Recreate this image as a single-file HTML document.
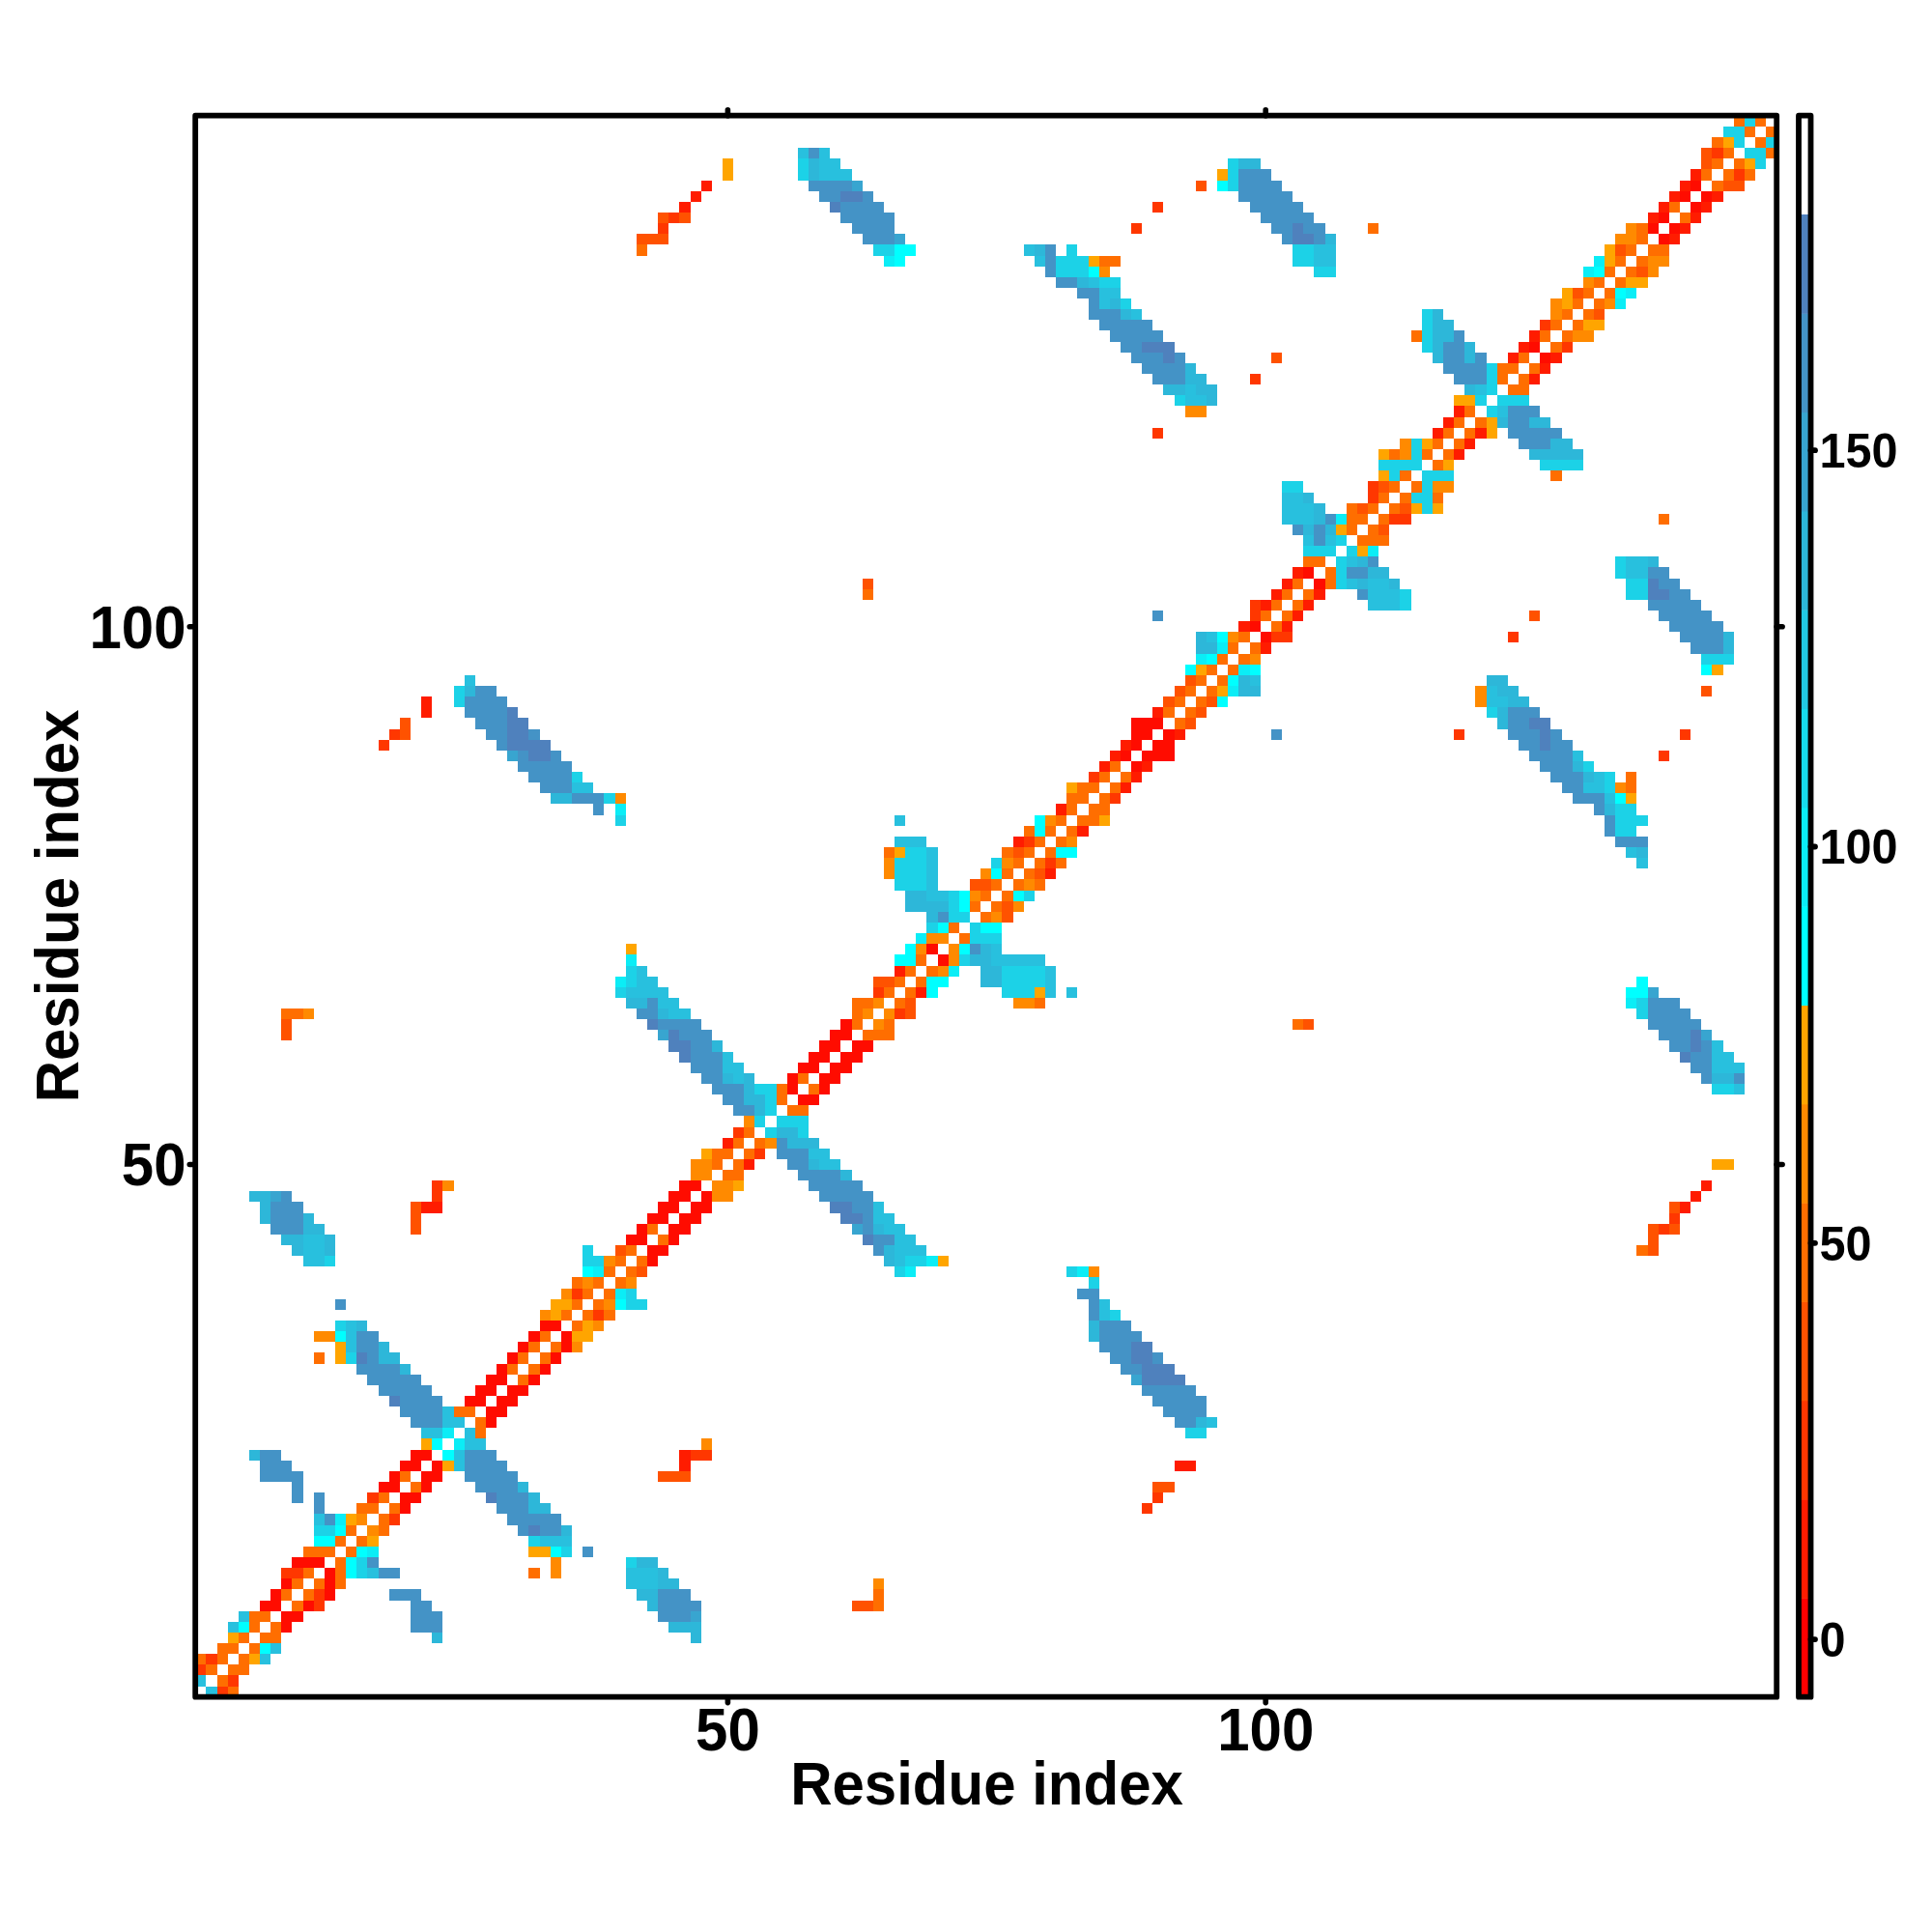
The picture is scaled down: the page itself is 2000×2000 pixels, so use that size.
<!DOCTYPE html>
<html><head><meta charset="utf-8"><title>Residue index contact map</title>
<style>html,body{margin:0;padding:0;background:#fff}svg{display:block}text{font-family:"Liberation Sans",Arial,Helvetica,sans-serif;font-weight:bold;fill:#000}</style>
</head><body>
<svg width="2000" height="2000" viewBox="0 0 2000 2000">
<rect width="2000" height="2000" fill="#fff"/>
<g shape-rendering="crispEdges">
<path fill="#ff0c00" d="M291.3 1678.7H302.4V1689.9H291.3zM291.3 1667.6H313.6V1678.7H291.3zM269.0 1656.5H291.3V1667.6H269.0zM313.6 1656.5H324.7V1667.6H313.6zM280.2 1645.3H291.3V1656.5H280.2zM335.8 1645.3H347.0V1656.5H335.8zM291.3 1634.2H302.4V1645.3H291.3zM335.8 1634.2H347.0V1645.3H335.8zM335.8 1623.1H347.0V1634.2H335.8zM302.4 1611.9H335.8V1623.1H302.4zM413.8 1556.3H424.9V1567.4H413.8zM413.8 1545.1H436.1V1556.3H413.8zM391.5 1534.0H413.8V1545.1H391.5zM436.1 1534.0H447.2V1545.1H436.1zM402.6 1522.8H413.8V1534.0H402.6zM436.1 1522.8H458.3V1534.0H436.1zM413.8 1511.7H436.1V1522.8H413.8zM447.2 1511.7H458.3V1522.8H447.2zM424.9 1500.6H447.2V1511.7H424.9zM502.9 1467.2H514.0V1478.3H502.9zM502.9 1456.0H525.1V1467.2H502.9zM480.6 1444.9H502.9V1456.0H480.6zM514.0 1444.9H536.3V1456.0H514.0zM491.7 1433.8H514.0V1444.9H491.7zM525.1 1433.8H547.4V1444.9H525.1zM502.9 1422.6H525.1V1433.8H502.9zM547.4 1422.6H558.6V1433.8H547.4zM514.0 1411.5H525.1V1422.6H514.0zM558.6 1411.5H569.7V1422.6H558.6zM525.1 1400.3H536.3V1411.5H525.1zM569.7 1400.3H580.8V1411.5H569.7zM536.3 1389.2H547.4V1400.3H536.3zM580.8 1389.2H592.0V1400.3H580.8zM547.4 1378.1H558.6V1389.2H547.4zM580.8 1378.1H592.0V1389.2H580.8zM558.6 1366.9H580.8V1378.1H558.6zM669.9 1300.1H681.0V1311.3H669.9zM669.9 1289.0H692.2V1300.1H669.9zM647.6 1277.9H669.9V1289.0H647.6zM692.2 1277.9H703.3V1289.0H692.2zM658.8 1266.7H669.9V1277.9H658.8zM692.2 1266.7H714.5V1277.9H692.2zM669.9 1255.6H692.2V1266.7H669.9zM703.3 1255.6H725.6V1266.7H703.3zM681.0 1244.4H703.3V1255.6H681.0zM714.5 1244.4H736.7V1255.6H714.5zM692.2 1233.3H714.5V1244.4H692.2zM725.6 1233.3H736.7V1244.4H725.6zM703.3 1222.2H725.6V1233.3H703.3zM825.8 1133.1H848.1V1144.2H825.8zM814.7 1121.9H825.8V1133.1H814.7zM848.1 1121.9H859.2V1133.1H848.1zM814.7 1110.8H825.8V1121.9H814.7zM848.1 1110.8H870.4V1121.9H848.1zM825.8 1099.7H848.1V1110.8H825.8zM859.2 1099.7H881.5V1110.8H859.2zM837.0 1088.5H859.2V1099.7H837.0zM870.4 1088.5H892.6V1099.7H870.4zM848.1 1077.4H870.4V1088.5H848.1zM881.5 1077.4H903.8V1088.5H881.5zM859.2 1066.3H881.5V1077.4H859.2zM870.4 1055.1H881.5V1066.3H870.4zM970.6 988.3H981.7V999.5H970.6zM959.4 977.2H970.6V988.3H959.4zM1171.0 787.9H1182.2V799.0H1171.0zM1159.9 776.7H1171.0V787.9H1159.9zM1182.2 776.7H1215.6V787.9H1182.2zM1171.0 765.6H1182.2V776.7H1171.0zM1193.3 765.6H1215.6V776.7H1193.3zM1171.0 754.5H1193.3V765.6H1171.0zM1204.4 754.5H1215.6V765.6H1204.4zM1171.0 743.3H1204.4V754.5H1171.0zM1304.7 654.2H1315.8V665.4H1304.7zM1293.5 643.1H1304.7V654.2H1293.5zM1360.3 598.6H1371.5V609.7H1360.3zM1349.2 587.4H1360.3V598.6H1349.2zM1594.2 364.7H1605.3V375.8H1594.2zM1583.1 353.6H1594.2V364.7H1583.1zM1716.7 242.2H1727.8V253.3H1716.7zM1705.6 231.1H1716.7V242.2H1705.6zM1727.8 231.1H1739.0V242.2H1727.8zM1716.7 219.9H1727.8V231.1H1716.7zM1750.1 208.8H1761.2V219.9H1750.1zM1739.0 197.7H1750.1V208.8H1739.0zM1761.2 197.7H1772.4V208.8H1761.2zM1750.1 186.5H1761.2V197.7H1750.1z"/>
<path fill="#ff1c00" d="M703.3 1511.7H714.5V1522.8H703.3zM1215.6 1511.7H1237.8V1522.8H1215.6zM703.3 1500.6H714.5V1511.7H703.3zM436.1 1244.4H458.3V1255.6H436.1zM1739.0 1244.4H1750.1V1255.6H1739.0zM1750.1 1233.3H1761.2V1244.4H1750.1zM1761.2 1222.2H1772.4V1233.3H1761.2zM770.1 1199.9H781.3V1211.0H770.1zM747.9 1177.6H759.0V1188.8H747.9zM948.3 1021.7H959.4V1032.9H948.3zM926.0 999.5H937.2V1010.6H926.0zM1081.9 899.2H1093.1V910.4H1081.9zM1048.5 865.8H1059.7V877.0H1048.5zM1115.4 854.7H1126.5V865.8H1115.4zM1093.1 832.4H1104.2V843.5H1093.1zM1159.9 810.1H1171.0V821.3H1159.9zM1171.0 799.0H1182.2V810.1H1171.0zM1137.6 787.9H1148.8V799.0H1137.6zM1182.2 787.9H1193.3V799.0H1182.2zM1148.8 776.7H1159.9V787.9H1148.8zM1159.9 765.6H1171.0V776.7H1159.9zM1215.6 754.5H1226.7V765.6H1215.6zM436.1 732.2H447.2V743.3H436.1zM1193.3 732.2H1204.4V743.3H1193.3zM436.1 721.1H447.2V732.2H436.1zM1304.7 665.4H1315.8V676.5H1304.7zM1282.4 643.1H1293.5V654.2H1282.4zM1326.9 643.1H1338.1V654.2H1326.9zM1338.1 632.0H1349.2V643.1H1338.1zM1304.7 620.8H1315.8V632.0H1304.7zM1349.2 620.8H1360.3V632.0H1349.2zM1315.8 609.7H1326.9V620.8H1315.8zM1360.3 609.7H1371.5V620.8H1360.3zM1326.9 598.6H1338.1V609.7H1326.9zM1338.1 587.4H1349.2V598.6H1338.1zM1505.1 464.9H1516.2V476.1H1505.1zM1516.2 453.8H1527.4V464.9H1516.2zM1482.8 442.7H1494.0V453.8H1482.8zM1527.4 442.7H1538.5V453.8H1527.4zM1494.0 431.5H1505.1V442.7H1494.0zM1505.1 420.4H1516.2V431.5H1505.1zM1583.1 387.0H1594.2V398.1H1583.1zM1594.2 375.8H1605.3V387.0H1594.2zM1560.8 364.7H1571.9V375.8H1560.8zM1605.3 364.7H1616.5V375.8H1605.3zM1571.9 353.6H1583.1V364.7H1571.9zM1583.1 342.4H1594.2V353.6H1583.1zM1727.8 242.2H1739.0V253.3H1727.8zM1739.0 231.1H1750.1V242.2H1739.0zM1705.6 219.9H1716.7V231.1H1705.6zM1750.1 219.9H1761.2V231.1H1750.1zM703.3 208.8H714.5V219.9H703.3zM1716.7 208.8H1727.8V219.9H1716.7zM1761.2 208.8H1772.4V219.9H1761.2zM714.5 197.7H725.6V208.8H714.5zM1727.8 197.7H1739.0V208.8H1727.8zM1772.4 197.7H1783.5V208.8H1772.4zM725.6 186.5H736.7V197.7H725.6zM1739.0 186.5H1750.1V197.7H1739.0zM1750.1 175.4H1761.2V186.5H1750.1z"/>
<path fill="#ff3700" d="M224.5 1745.6H235.6V1756.7H224.5zM235.6 1734.4H246.7V1745.6H235.6zM202.2 1723.3H213.3V1734.4H202.2zM213.3 1712.2H224.5V1723.3H213.3zM324.7 1656.5H335.8V1667.6H324.7zM324.7 1645.3H335.8V1656.5H324.7zM291.3 1623.1H313.6V1634.2H291.3zM402.6 1567.4H413.8V1578.5H402.6zM1182.2 1556.3H1193.3V1567.4H1182.2zM380.4 1545.1H391.5V1556.3H380.4zM1193.3 1545.1H1204.4V1556.3H1193.3zM714.5 1500.6H736.7V1511.7H714.5zM614.2 1355.8H625.4V1366.9H614.2zM592.0 1333.5H603.1V1344.7H592.0zM1716.7 1266.7H1727.8V1277.9H1716.7zM1727.8 1255.6H1739.0V1266.7H1727.8zM447.2 1233.3H458.3V1244.4H447.2zM447.2 1222.2H458.3V1233.3H447.2zM781.3 1188.8H792.4V1199.9H781.3zM759.0 1166.5H770.1V1177.6H759.0zM926.0 1044.0H937.2V1055.1H926.0zM903.8 1021.7H914.9V1032.9H903.8zM1081.9 888.1H1093.1V899.2H1081.9zM1059.7 865.8H1070.8V877.0H1059.7zM1148.8 821.3H1159.9V832.4H1148.8zM1126.5 799.0H1137.6V810.1H1126.5zM1716.7 776.7H1727.8V787.9H1716.7zM391.5 765.6H402.6V776.7H391.5zM402.6 754.5H413.8V765.6H402.6zM1505.1 754.5H1516.2V765.6H1505.1zM1739.0 754.5H1750.1V765.6H1739.0zM1315.8 654.2H1338.1V665.4H1315.8zM1560.8 654.2H1571.9V665.4H1560.8zM1293.5 632.0H1304.7V643.1H1293.5zM1293.5 620.8H1304.7V632.0H1293.5zM1438.3 531.7H1460.6V542.9H1438.3zM1416.0 509.5H1427.2V520.6H1416.0zM1416.0 498.3H1427.2V509.5H1416.0zM1193.3 442.7H1204.4V453.8H1193.3zM1293.5 387.0H1304.7V398.1H1293.5zM1616.5 353.6H1627.6V364.7H1616.5zM1594.2 331.3H1605.3V342.4H1594.2zM681.0 231.1H692.2V242.2H681.0zM1171.0 231.1H1182.2V242.2H1171.0zM692.2 219.9H703.3V231.1H692.2zM1193.3 208.8H1204.4V219.9H1193.3zM1794.6 175.4H1805.8V186.5H1794.6zM1772.4 153.1H1783.5V164.3H1772.4z"/>
<path fill="#ff5200" d="M881.5 1656.5H903.8V1667.6H881.5zM1193.3 1534.0H1215.6V1545.1H1193.3zM681.0 1522.8H714.5V1534.0H681.0zM658.8 1311.3H669.9V1322.4H658.8zM636.5 1289.0H647.6V1300.1H636.5zM1705.6 1289.0H1716.7V1300.1H1705.6zM1705.6 1277.9H1716.7V1289.0H1705.6zM424.9 1266.7H436.1V1277.9H424.9zM1705.6 1266.7H1716.7V1277.9H1705.6zM1727.8 1266.7H1739.0V1277.9H1727.8zM424.9 1255.6H436.1V1266.7H424.9zM424.9 1244.4H436.1V1255.6H424.9zM1727.8 1244.4H1739.0V1255.6H1727.8zM291.3 1066.3H302.4V1077.4H291.3zM291.3 1055.1H302.4V1066.3H291.3zM1349.2 1055.1H1360.3V1066.3H1349.2zM937.2 1044.0H948.3V1055.1H937.2zM937.2 1032.9H948.3V1044.0H937.2zM903.8 1010.6H926.0V1021.7H903.8zM1037.4 943.8H1048.5V954.9H1037.4zM1037.4 932.6H1048.5V943.8H1037.4zM1004.0 910.4H1026.3V921.5H1004.0zM1070.8 899.2H1081.9V910.4H1070.8zM1048.5 877.0H1059.7V888.1H1048.5zM413.8 754.5H424.9V765.6H413.8zM413.8 743.3H424.9V754.5H413.8zM1226.7 743.3H1237.8V754.5H1226.7zM1237.8 732.2H1249.0V743.3H1237.8zM1204.4 721.1H1215.6V732.2H1204.4zM1249.0 721.1H1260.1V732.2H1249.0zM1215.6 709.9H1226.7V721.1H1215.6zM1761.2 709.9H1772.4V721.1H1761.2zM1226.7 698.8H1237.8V709.9H1226.7zM1583.1 632.0H1594.2V643.1H1583.1zM892.6 598.6H903.8V609.7H892.6zM1427.2 542.9H1438.3V554.0H1427.2zM1404.9 520.6H1416.0V531.7H1404.9zM1449.4 520.6H1460.6V531.7H1449.4zM1427.2 498.3H1438.3V509.5H1427.2zM1315.8 364.7H1326.9V375.8H1315.8zM1649.9 320.2H1661.0V331.3H1649.9zM1627.6 297.9H1638.7V309.0H1627.6zM1694.4 275.6H1705.6V286.7H1694.4zM1672.2 253.3H1683.3V264.5H1672.2zM658.8 242.2H692.2V253.3H658.8zM681.0 219.9H692.2V231.1H681.0zM703.3 219.9H714.5V231.1H703.3zM1237.8 186.5H1249.0V197.7H1237.8zM1783.5 186.5H1805.8V197.7H1783.5zM1761.2 164.3H1772.4V175.4H1761.2zM1761.2 153.1H1772.4V164.3H1761.2z"/>
<path fill="#ff6e00" d="M235.6 1745.6H246.7V1756.7H235.6zM224.5 1734.4H235.6V1745.6H224.5zM213.3 1723.3H224.5V1734.4H213.3zM235.6 1723.3H257.9V1734.4H235.6zM202.2 1712.2H213.3V1723.3H202.2zM224.5 1712.2H235.6V1723.3H224.5zM246.7 1712.2H257.9V1723.3H246.7zM224.5 1701.0H246.7V1712.2H224.5zM257.9 1701.0H269.0V1712.2H257.9zM246.7 1689.9H257.9V1701.0H246.7zM269.0 1689.9H291.3V1701.0H269.0zM257.9 1678.7H269.0V1689.9H257.9zM280.2 1678.7H291.3V1689.9H280.2zM257.9 1667.6H280.2V1678.7H257.9zM302.4 1656.5H313.6V1667.6H302.4zM903.8 1656.5H914.9V1667.6H903.8zM291.3 1645.3H302.4V1656.5H291.3zM313.6 1645.3H324.7V1656.5H313.6zM903.8 1645.3H914.9V1656.5H903.8zM302.4 1634.2H313.6V1645.3H302.4zM324.7 1634.2H335.8V1645.3H324.7zM347.0 1634.2H358.1V1645.3H347.0zM313.6 1623.1H324.7V1634.2H313.6zM347.0 1623.1H358.1V1634.2H347.0zM547.4 1623.1H558.6V1634.2H547.4zM347.0 1611.9H358.1V1623.1H347.0zM313.6 1600.8H347.0V1611.9H313.6zM358.1 1600.8H369.2V1611.9H358.1zM347.0 1589.7H358.1V1600.8H347.0zM369.2 1589.7H380.4V1600.8H369.2zM358.1 1578.5H369.2V1589.7H358.1zM391.5 1578.5H402.6V1589.7H391.5zM391.5 1567.4H402.6V1578.5H391.5zM369.2 1556.3H391.5V1567.4H369.2zM402.6 1556.3H413.8V1567.4H402.6zM391.5 1545.1H402.6V1556.3H391.5zM424.9 1534.0H436.1V1545.1H424.9zM413.8 1522.8H424.9V1534.0H413.8zM491.7 1478.3H502.9V1489.4H491.7zM491.7 1467.2H502.9V1478.3H491.7zM469.5 1456.0H491.7V1467.2H469.5zM536.3 1422.6H547.4V1433.8H536.3zM525.1 1411.5H536.3V1422.6H525.1zM547.4 1411.5H558.6V1422.6H547.4zM324.7 1400.3H335.8V1411.5H324.7zM536.3 1400.3H547.4V1411.5H536.3zM558.6 1400.3H569.7V1411.5H558.6zM547.4 1389.2H558.6V1400.3H547.4zM569.7 1389.2H580.8V1400.3H569.7zM558.6 1378.1H569.7V1389.2H558.6zM592.0 1366.9H603.1V1378.1H592.0zM580.8 1355.8H592.0V1366.9H580.8zM603.1 1355.8H614.2V1366.9H603.1zM625.4 1355.8H636.5V1366.9H625.4zM592.0 1344.7H603.1V1355.8H592.0zM614.2 1344.7H625.4V1355.8H614.2zM603.1 1333.5H614.2V1344.7H603.1zM625.4 1333.5H636.5V1344.7H625.4zM592.0 1322.4H603.1V1333.5H592.0zM614.2 1322.4H625.4V1333.5H614.2zM636.5 1322.4H647.6V1333.5H636.5zM625.4 1311.3H636.5V1322.4H625.4zM647.6 1311.3H658.8V1322.4H647.6zM636.5 1300.1H647.6V1311.3H636.5zM658.8 1300.1H669.9V1311.3H658.8zM647.6 1289.0H658.8V1300.1H647.6zM1694.4 1289.0H1705.6V1300.1H1694.4zM681.0 1277.9H692.2V1289.0H681.0zM669.9 1266.7H681.0V1277.9H669.9zM747.9 1211.0H770.1V1222.2H747.9zM736.7 1199.9H747.9V1211.0H736.7zM759.0 1199.9H770.1V1211.0H759.0zM736.7 1188.8H759.0V1199.9H736.7zM770.1 1188.8H781.3V1199.9H770.1zM759.0 1177.6H770.1V1188.8H759.0zM781.3 1177.6H792.4V1188.8H781.3zM770.1 1166.5H781.3V1177.6H770.1zM814.7 1144.2H837.0V1155.4H814.7zM803.5 1133.1H814.7V1144.2H803.5zM803.5 1121.9H814.7V1133.1H803.5zM837.0 1121.9H848.1V1133.1H837.0zM825.8 1110.8H837.0V1121.9H825.8zM892.6 1066.3H926.0V1077.4H892.6zM881.5 1055.1H892.6V1066.3H881.5zM914.9 1055.1H926.0V1066.3H914.9zM1338.1 1055.1H1349.2V1066.3H1338.1zM291.3 1044.0H313.6V1055.1H291.3zM881.5 1044.0H892.6V1055.1H881.5zM881.5 1032.9H903.8V1044.0H881.5zM926.0 1032.9H937.2V1044.0H926.0zM1070.8 1032.9H1081.9V1044.0H1070.8zM914.9 1021.7H926.0V1032.9H914.9zM937.2 1021.7H948.3V1032.9H937.2zM926.0 1010.6H937.2V1021.7H926.0zM948.3 1010.6H959.4V1021.7H948.3zM937.2 999.5H948.3V1010.6H937.2zM959.4 999.5H970.6V1010.6H959.4zM948.3 988.3H959.4V999.5H948.3zM992.9 966.0H1004.0V977.2H992.9zM981.7 954.9H992.9V966.0H981.7zM1015.1 943.8H1026.3V954.9H1015.1zM1004.0 932.6H1015.1V943.8H1004.0zM1026.3 932.6H1037.4V943.8H1026.3zM1015.1 921.5H1026.3V932.6H1015.1zM1037.4 921.5H1048.5V932.6H1037.4zM1026.3 910.4H1037.4V921.5H1026.3zM1048.5 910.4H1059.7V921.5H1048.5zM1070.8 910.4H1081.9V921.5H1070.8zM1037.4 899.2H1048.5V910.4H1037.4zM1059.7 899.2H1070.8V910.4H1059.7zM1048.5 888.1H1059.7V899.2H1048.5zM1070.8 888.1H1081.9V899.2H1070.8zM1093.1 888.1H1104.2V899.2H1093.1zM914.9 877.0H926.0V888.1H914.9zM1037.4 877.0H1048.5V888.1H1037.4zM1059.7 877.0H1070.8V888.1H1059.7zM1081.9 877.0H1093.1V888.1H1081.9zM1070.8 865.8H1081.9V877.0H1070.8zM1093.1 865.8H1104.2V877.0H1093.1zM1059.7 854.7H1070.8V865.8H1059.7zM1081.9 854.7H1093.1V865.8H1081.9zM1104.2 854.7H1115.4V865.8H1104.2zM1093.1 843.5H1104.2V854.7H1093.1zM1115.4 843.5H1137.6V854.7H1115.4zM1104.2 832.4H1115.4V843.5H1104.2zM1126.5 832.4H1148.8V843.5H1126.5zM1104.2 821.3H1126.5V832.4H1104.2zM1137.6 821.3H1148.8V832.4H1137.6zM1115.4 810.1H1137.6V821.3H1115.4zM1148.8 810.1H1159.9V821.3H1148.8zM1683.3 810.1H1694.4V821.3H1683.3zM1137.6 799.0H1148.8V810.1H1137.6zM1159.9 799.0H1171.0V810.1H1159.9zM1683.3 799.0H1694.4V810.1H1683.3zM1148.8 787.9H1159.9V799.0H1148.8zM1215.6 743.3H1226.7V754.5H1215.6zM1204.4 732.2H1215.6V743.3H1204.4zM1226.7 732.2H1237.8V743.3H1226.7zM1215.6 721.1H1226.7V732.2H1215.6zM1237.8 721.1H1249.0V732.2H1237.8zM1226.7 709.9H1237.8V721.1H1226.7zM1249.0 709.9H1260.1V721.1H1249.0zM1237.8 698.8H1249.0V709.9H1237.8zM1260.1 698.8H1271.3V709.9H1260.1zM1249.0 687.6H1260.1V698.8H1249.0zM1271.3 687.6H1282.4V698.8H1271.3zM1260.1 676.5H1271.3V687.6H1260.1zM1282.4 676.5H1293.5V687.6H1282.4zM1271.3 665.4H1282.4V676.5H1271.3zM1293.5 665.4H1304.7V676.5H1293.5zM1282.4 654.2H1293.5V665.4H1282.4zM1315.8 643.1H1326.9V654.2H1315.8zM1304.7 632.0H1315.8V643.1H1304.7zM1326.9 632.0H1338.1V643.1H1326.9zM1315.8 620.8H1326.9V632.0H1315.8zM1338.1 620.8H1349.2V632.0H1338.1zM892.6 609.7H903.8V620.8H892.6zM1326.9 609.7H1338.1V620.8H1326.9zM1349.2 609.7H1360.3V620.8H1349.2zM1338.1 598.6H1349.2V609.7H1338.1zM1371.5 598.6H1382.6V609.7H1371.5zM1371.5 587.4H1382.6V598.6H1371.5zM1349.2 576.3H1371.5V587.4H1349.2zM1404.9 554.0H1438.3V565.1H1404.9zM1393.8 542.9H1404.9V554.0H1393.8zM1416.0 542.9H1427.2V554.0H1416.0zM1393.8 531.7H1416.0V542.9H1393.8zM1427.2 531.7H1438.3V542.9H1427.2zM1716.7 531.7H1727.8V542.9H1716.7zM1393.8 520.6H1404.9V531.7H1393.8zM1416.0 520.6H1427.2V531.7H1416.0zM1438.3 520.6H1449.4V531.7H1438.3zM1427.2 509.5H1438.3V520.6H1427.2zM1449.4 509.5H1460.6V520.6H1449.4zM1482.8 509.5H1494.0V520.6H1482.8zM1438.3 498.3H1449.4V509.5H1438.3zM1460.6 498.3H1471.7V509.5H1460.6zM1449.4 487.2H1460.6V498.3H1449.4zM1605.3 487.2H1616.5V498.3H1605.3zM1482.8 476.1H1494.0V487.2H1482.8zM1438.3 464.9H1449.4V476.1H1438.3zM1471.7 464.9H1482.8V476.1H1471.7zM1494.0 464.9H1505.1V476.1H1494.0zM1482.8 453.8H1494.0V464.9H1482.8zM1505.1 453.8H1516.2V464.9H1505.1zM1494.0 442.7H1505.1V453.8H1494.0zM1516.2 442.7H1527.4V453.8H1516.2zM1505.1 431.5H1516.2V442.7H1505.1zM1527.4 431.5H1538.5V442.7H1527.4zM1516.2 420.4H1527.4V431.5H1516.2zM1560.8 398.1H1583.1V409.2H1560.8zM1549.7 387.0H1560.8V398.1H1549.7zM1571.9 387.0H1583.1V398.1H1571.9zM1549.7 375.8H1571.9V387.0H1549.7zM1583.1 375.8H1594.2V387.0H1583.1zM1571.9 364.7H1583.1V375.8H1571.9zM1605.3 353.6H1616.5V364.7H1605.3zM1460.6 342.4H1471.7V353.6H1460.6zM1594.2 342.4H1605.3V353.6H1594.2zM1616.5 342.4H1627.6V353.6H1616.5zM1605.3 331.3H1616.5V342.4H1605.3zM1627.6 331.3H1638.7V342.4H1627.6zM1616.5 320.2H1627.6V331.3H1616.5zM1638.7 320.2H1649.9V331.3H1638.7zM1627.6 309.0H1638.7V320.2H1627.6zM1649.9 309.0H1661.0V320.2H1649.9zM1638.7 297.9H1649.9V309.0H1638.7zM1661.0 297.9H1672.2V309.0H1661.0zM1649.9 286.7H1661.0V297.9H1649.9zM1672.2 286.7H1683.3V297.9H1672.2zM1661.0 275.6H1672.2V286.7H1661.0zM1683.3 275.6H1694.4V286.7H1683.3zM1137.6 264.5H1159.9V275.6H1137.6zM1672.2 264.5H1683.3V275.6H1672.2zM1694.4 264.5H1705.6V275.6H1694.4zM658.8 253.3H669.9V264.5H658.8zM1683.3 253.3H1694.4V264.5H1683.3zM1705.6 253.3H1727.8V264.5H1705.6zM1694.4 242.2H1705.6V253.3H1694.4zM1416.0 231.1H1427.2V242.2H1416.0zM1694.4 231.1H1705.6V242.2H1694.4zM1739.0 219.9H1750.1V231.1H1739.0zM1727.8 208.8H1739.0V219.9H1727.8zM1772.4 186.5H1783.5V197.7H1772.4zM1761.2 175.4H1772.4V186.5H1761.2zM1783.5 175.4H1794.6V186.5H1783.5zM1805.8 175.4H1816.9V186.5H1805.8zM1772.4 164.3H1783.5V175.4H1772.4zM1794.6 164.3H1805.8V175.4H1794.6zM1783.5 153.1H1794.6V164.3H1783.5zM1828.1 153.1H1839.2V164.3H1828.1zM1772.4 142.0H1783.5V153.1H1772.4zM1816.9 142.0H1828.1V153.1H1816.9zM1805.8 130.8H1816.9V142.0H1805.8zM1828.1 130.8H1839.2V142.0H1828.1zM1794.6 119.7H1805.8V130.8H1794.6zM1816.9 119.7H1828.1V130.8H1816.9z"/>
<path fill="#ff8a00" d="M903.8 1634.2H914.9V1645.3H903.8zM569.7 1623.1H580.8V1634.2H569.7zM569.7 1611.9H580.8V1623.1H569.7zM380.4 1578.5H391.5V1589.7H380.4zM369.2 1567.4H380.4V1578.5H369.2zM725.6 1489.4H736.7V1500.6H725.6zM592.0 1389.2H603.1V1400.3H592.0zM324.7 1378.1H347.0V1389.2H324.7zM614.2 1366.9H625.4V1378.1H614.2zM558.6 1355.8H569.7V1366.9H558.6zM625.4 1344.7H636.5V1355.8H625.4zM580.8 1333.5H592.0V1344.7H580.8zM603.1 1322.4H614.2V1333.5H603.1zM647.6 1322.4H658.8V1333.5H647.6zM1126.5 1311.3H1137.6V1322.4H1126.5zM625.4 1300.1H636.5V1311.3H625.4zM736.7 1233.3H759.0V1244.4H736.7zM458.3 1222.2H469.5V1233.3H458.3zM736.7 1222.2H759.0V1233.3H736.7zM714.5 1211.0H736.7V1222.2H714.5zM714.5 1199.9H736.7V1211.0H714.5zM792.4 1177.6H803.5V1188.8H792.4zM770.1 1155.4H781.3V1166.5H770.1zM903.8 1055.1H914.9V1066.3H903.8zM313.6 1044.0H324.7V1055.1H313.6zM892.6 1044.0H903.8V1055.1H892.6zM914.9 1044.0H926.0V1055.1H914.9zM903.8 1032.9H914.9V1044.0H903.8zM1048.5 1032.9H1070.8V1044.0H1048.5zM970.6 999.5H981.7V1010.6H970.6zM981.7 988.3H992.9V999.5H981.7zM948.3 977.2H959.4V988.3H948.3zM981.7 977.2H992.9V988.3H981.7zM959.4 966.0H981.7V977.2H959.4zM1026.3 943.8H1037.4V954.9H1026.3zM1048.5 932.6H1059.7V943.8H1048.5zM1004.0 921.5H1015.1V932.6H1004.0zM1059.7 910.4H1070.8V921.5H1059.7zM914.9 899.2H926.0V910.4H914.9zM1015.1 899.2H1026.3V910.4H1015.1zM914.9 888.1H926.0V899.2H914.9zM1037.4 888.1H1048.5V899.2H1037.4zM1104.2 865.8H1115.4V877.0H1104.2zM1081.9 843.5H1093.1V854.7H1081.9zM636.5 821.3H647.6V832.4H636.5zM1672.2 810.1H1683.3V821.3H1672.2zM1527.4 721.1H1538.5V732.2H1527.4zM1527.4 709.9H1538.5V721.1H1527.4zM1293.5 676.5H1304.7V687.6H1293.5zM1271.3 654.2H1282.4V665.4H1271.3zM1482.8 498.3H1505.1V509.5H1482.8zM1449.4 464.9H1460.6V476.1H1449.4zM1449.4 453.8H1460.6V464.9H1449.4zM1226.7 420.4H1249.0V431.5H1226.7zM1627.6 342.4H1649.9V353.6H1627.6zM1605.3 320.2H1616.5V331.3H1605.3zM1605.3 309.0H1616.5V320.2H1605.3zM1661.0 309.0H1672.2V320.2H1661.0zM1638.7 286.7H1649.9V297.9H1638.7zM1137.6 275.6H1148.8V286.7H1137.6zM1705.6 275.6H1716.7V286.7H1705.6zM1705.6 264.5H1727.8V275.6H1705.6zM1672.2 242.2H1694.4V253.3H1672.2zM1683.3 231.1H1694.4V242.2H1683.3z"/>
<path fill="#ffa500" d="M257.9 1712.2H269.0V1723.3H257.9zM235.6 1689.9H246.7V1701.0H235.6zM547.4 1600.8H569.7V1611.9H547.4zM380.4 1589.7H391.5V1600.8H380.4zM358.1 1567.4H369.2V1578.5H358.1zM458.3 1511.7H469.5V1522.8H458.3zM436.1 1489.4H447.2V1500.6H436.1zM347.0 1400.3H358.1V1411.5H347.0zM347.0 1389.2H358.1V1400.3H347.0zM592.0 1378.1H614.2V1389.2H592.0zM603.1 1366.9H614.2V1378.1H603.1zM569.7 1355.8H580.8V1366.9H569.7zM569.7 1344.7H592.0V1355.8H569.7zM970.6 1300.1H981.7V1311.3H970.6zM759.0 1222.2H770.1V1233.3H759.0zM1772.4 1199.9H1794.6V1211.0H1772.4zM725.6 1188.8H736.7V1199.9H725.6zM1070.8 1021.7H1081.9V1032.9H1070.8zM647.6 977.2H658.8V988.3H647.6zM926.0 877.0H937.2V888.1H926.0zM1137.6 843.5H1148.8V854.7H1137.6zM1683.3 821.3H1694.4V832.4H1683.3zM1104.2 810.1H1115.4V821.3H1104.2zM1260.1 709.9H1271.3V721.1H1260.1zM1237.8 687.6H1249.0V698.8H1237.8zM1772.4 687.6H1783.5V698.8H1772.4zM1404.9 565.1H1416.0V576.3H1404.9zM1382.6 542.9H1393.8V554.0H1382.6zM1460.6 520.6H1471.7V531.7H1460.6zM1482.8 520.6H1494.0V531.7H1482.8zM1427.2 487.2H1438.3V498.3H1427.2zM1494.0 476.1H1505.1V487.2H1494.0zM1427.2 464.9H1438.3V476.1H1427.2zM1471.7 453.8H1482.8V464.9H1471.7zM1538.5 442.7H1549.7V453.8H1538.5zM1538.5 431.5H1549.7V442.7H1538.5zM1505.1 409.2H1527.4V420.4H1505.1zM1638.7 331.3H1661.0V342.4H1638.7zM1616.5 309.0H1627.6V320.2H1616.5zM1616.5 297.9H1627.6V309.0H1616.5zM1683.3 286.7H1705.6V297.9H1683.3zM1126.5 264.5H1137.6V275.6H1126.5zM1661.0 264.5H1672.2V275.6H1661.0zM1661.0 253.3H1672.2V264.5H1661.0zM747.9 175.4H759.0V186.5H747.9zM1260.1 175.4H1271.3V186.5H1260.1zM747.9 164.3H759.0V175.4H747.9zM1805.8 164.3H1816.9V175.4H1805.8zM1783.5 142.0H1794.6V153.1H1783.5z"/>
<path fill="#00ffff" d="M269.0 1701.0H280.2V1712.2H269.0zM246.7 1678.7H257.9V1689.9H246.7zM358.1 1623.1H369.2V1634.2H358.1zM358.1 1611.9H369.2V1623.1H358.1zM369.2 1600.8H380.4V1611.9H369.2zM569.7 1600.8H580.8V1611.9H569.7zM324.7 1589.7H347.0V1600.8H324.7zM347.0 1578.5H358.1V1589.7H347.0zM458.3 1500.6H469.5V1511.7H458.3zM447.2 1489.4H458.3V1500.6H447.2zM347.0 1378.1H358.1V1389.2H347.0zM636.5 1344.7H647.6V1355.8H636.5zM603.1 1311.3H614.2V1322.4H603.1zM959.4 1021.7H970.6V1032.9H959.4zM1683.3 1021.7H1705.6V1032.9H1683.3zM959.4 1010.6H981.7V1021.7H959.4zM1694.4 1010.6H1705.6V1021.7H1694.4zM926.0 988.3H948.3V999.5H926.0zM937.2 977.2H948.3V988.3H937.2zM992.9 977.2H1004.0V988.3H992.9zM970.6 954.9H981.7V966.0H970.6zM1015.1 954.9H1037.4V966.0H1015.1zM992.9 932.6H1004.0V943.8H992.9zM992.9 921.5H1004.0V932.6H992.9zM1048.5 921.5H1059.7V932.6H1048.5zM1026.3 899.2H1037.4V910.4H1026.3zM1093.1 877.0H1115.4V888.1H1093.1zM1070.8 854.7H1081.9V865.8H1070.8zM1070.8 843.5H1081.9V854.7H1070.8zM1672.2 821.3H1683.3V832.4H1672.2zM1260.1 721.1H1271.3V732.2H1260.1zM1271.3 698.8H1282.4V709.9H1271.3zM1226.7 687.6H1237.8V698.8H1226.7zM1293.5 687.6H1304.7V698.8H1293.5zM1761.2 687.6H1772.4V698.8H1761.2zM1249.0 676.5H1260.1V687.6H1249.0zM1260.1 654.2H1271.3V665.4H1260.1zM1672.2 297.9H1683.3V309.0H1672.2zM1126.5 275.6H1137.6V286.7H1126.5zM1649.9 275.6H1661.0V286.7H1649.9zM926.0 264.5H937.2V275.6H926.0zM926.0 253.3H948.3V264.5H926.0zM1260.1 186.5H1271.3V197.7H1260.1z"/>
<path fill="#0bedf6" d="M380.4 1600.8H391.5V1611.9H380.4zM347.0 1567.4H358.1V1578.5H347.0zM469.5 1489.4H480.6V1500.6H469.5zM458.3 1478.3H469.5V1489.4H458.3zM636.5 1333.5H647.6V1344.7H636.5zM614.2 1311.3H625.4V1322.4H614.2zM937.2 1311.3H948.3V1322.4H937.2zM1115.4 1311.3H1126.5V1322.4H1115.4zM959.4 1300.1H970.6V1311.3H959.4zM1683.3 1032.9H1694.4V1044.0H1683.3zM636.5 1010.6H647.6V1021.7H636.5zM981.7 999.5H992.9V1010.6H981.7zM647.6 988.3H658.8V999.5H647.6zM948.3 966.0H959.4V977.2H948.3zM636.5 832.4H647.6V843.5H636.5zM1271.3 709.9H1282.4V721.1H1271.3zM1282.4 687.6H1293.5V698.8H1282.4zM1237.8 676.5H1249.0V687.6H1237.8zM1260.1 665.4H1271.3V676.5H1260.1zM1416.0 565.1H1427.2V576.3H1416.0zM1382.6 531.7H1393.8V542.9H1382.6zM1672.2 309.0H1683.3V320.2H1672.2zM1683.3 297.9H1694.4V309.0H1683.3zM1638.7 275.6H1649.9V286.7H1638.7zM914.9 264.5H926.0V275.6H914.9zM1649.9 264.5H1661.0V275.6H1649.9z"/>
<path fill="#1cd2e7" d="M369.2 1623.1H380.4V1634.2H369.2zM369.2 1611.9H380.4V1623.1H369.2zM647.6 1611.9H658.8V1623.1H647.6zM580.8 1600.8H592.0V1611.9H580.8zM547.4 1589.7H558.6V1600.8H547.4zM324.7 1578.5H347.0V1589.7H324.7zM1226.7 1478.3H1249.0V1489.4H1226.7zM358.1 1400.3H369.2V1411.5H358.1zM347.0 1366.9H358.1V1378.1H347.0zM1148.8 1355.8H1159.9V1366.9H1148.8zM647.6 1344.7H669.9V1355.8H647.6zM647.6 1333.5H658.8V1344.7H647.6zM1126.5 1322.4H1137.6V1333.5H1126.5zM926.0 1311.3H937.2V1322.4H926.0zM1104.2 1311.3H1115.4V1322.4H1104.2zM335.8 1300.1H347.0V1311.3H335.8zM603.1 1300.1H625.4V1311.3H603.1zM937.2 1300.1H959.4V1311.3H937.2zM603.1 1289.0H614.2V1300.1H603.1zM792.4 1166.5H803.5V1177.6H792.4zM825.8 1166.5H837.0V1177.6H825.8zM781.3 1155.4H792.4V1166.5H781.3zM803.5 1155.4H837.0V1166.5H803.5zM792.4 1144.2H803.5V1155.4H792.4zM792.4 1133.1H803.5V1144.2H792.4zM781.3 1121.9H803.5V1133.1H781.3zM1772.4 1121.9H1794.6V1133.1H1772.4zM1694.4 1044.0H1705.6V1055.1H1694.4zM1694.4 1032.9H1705.6V1044.0H1694.4zM636.5 1021.7H647.6V1032.9H636.5zM1037.4 1021.7H1070.8V1032.9H1037.4zM647.6 1010.6H658.8V1021.7H647.6zM1037.4 1010.6H1081.9V1021.7H1037.4zM647.6 999.5H658.8V1010.6H647.6zM1037.4 999.5H1081.9V1010.6H1037.4zM992.9 988.3H1004.0V999.5H992.9zM1004.0 966.0H1037.4V977.2H1004.0zM959.4 954.9H970.6V966.0H959.4zM1004.0 954.9H1015.1V966.0H1004.0zM981.7 943.8H1004.0V954.9H981.7zM981.7 932.6H992.9V943.8H981.7zM981.7 921.5H992.9V932.6H981.7zM1059.7 921.5H1070.8V932.6H1059.7zM926.0 910.4H959.4V921.5H926.0zM926.0 899.2H959.4V910.4H926.0zM926.0 888.1H959.4V899.2H926.0zM1026.3 888.1H1037.4V899.2H1026.3zM937.2 877.0H959.4V888.1H937.2zM1672.2 854.7H1694.4V865.8H1672.2zM636.5 843.5H647.6V854.7H636.5zM1672.2 843.5H1705.6V854.7H1672.2zM1672.2 832.4H1694.4V843.5H1672.2zM625.4 821.3H636.5V832.4H625.4zM1661.0 810.1H1672.2V821.3H1661.0zM592.0 799.0H603.1V810.1H592.0zM1661.0 799.0H1672.2V810.1H1661.0zM1638.7 787.9H1649.9V799.0H1638.7zM1538.5 732.2H1549.7V743.3H1538.5zM469.5 721.1H480.6V732.2H469.5zM469.5 709.9H480.6V721.1H469.5zM1761.2 676.5H1794.6V687.6H1761.2zM1449.4 620.8H1460.6V632.0H1449.4zM1449.4 609.7H1460.6V620.8H1449.4zM1683.3 609.7H1705.6V620.8H1683.3zM1382.6 598.6H1393.8V609.7H1382.6zM1683.3 598.6H1705.6V609.7H1683.3zM1382.6 587.4H1393.8V598.6H1382.6zM1672.2 587.4H1683.3V598.6H1672.2zM1382.6 576.3H1393.8V587.4H1382.6zM1672.2 576.3H1683.3V587.4H1672.2zM1349.2 565.1H1382.6V576.3H1349.2zM1393.8 565.1H1404.9V576.3H1393.8zM1382.6 554.0H1393.8V565.1H1382.6zM1471.7 520.6H1482.8V531.7H1471.7zM1460.6 509.5H1482.8V520.6H1460.6zM1326.9 498.3H1349.2V509.5H1326.9zM1471.7 498.3H1482.8V509.5H1471.7zM1438.3 487.2H1449.4V498.3H1438.3zM1471.7 487.2H1505.1V498.3H1471.7zM1427.2 476.1H1471.7V487.2H1427.2zM1594.2 476.1H1638.7V487.2H1594.2zM1460.6 464.9H1471.7V476.1H1460.6zM1460.6 453.8H1471.7V464.9H1460.6zM1538.5 420.4H1549.7V431.5H1538.5zM1215.6 409.2H1226.7V420.4H1215.6zM1527.4 409.2H1538.5V420.4H1527.4zM1549.7 409.2H1583.1V420.4H1549.7zM1538.5 398.1H1549.7V409.2H1538.5zM1538.5 387.0H1549.7V398.1H1538.5zM1538.5 375.8H1549.7V387.0H1538.5zM1471.7 353.6H1482.8V364.7H1471.7zM1471.7 342.4H1482.8V353.6H1471.7zM1471.7 331.3H1482.8V342.4H1471.7zM1471.7 320.2H1482.8V331.3H1471.7zM1159.9 309.0H1171.0V320.2H1159.9zM1137.6 286.7H1159.9V297.9H1137.6zM1093.1 275.6H1126.5V286.7H1093.1zM1360.3 275.6H1382.6V286.7H1360.3zM1093.1 264.5H1126.5V275.6H1093.1zM1338.1 264.5H1360.3V275.6H1338.1zM903.8 253.3H926.0V264.5H903.8zM1104.2 253.3H1115.4V264.5H1104.2zM1338.1 253.3H1360.3V264.5H1338.1zM1271.3 186.5H1282.4V197.7H1271.3zM825.8 175.4H837.0V186.5H825.8zM1271.3 175.4H1282.4V186.5H1271.3zM825.8 164.3H837.0V175.4H825.8zM1271.3 164.3H1282.4V175.4H1271.3zM1816.9 164.3H1828.1V175.4H1816.9zM1805.8 153.1H1828.1V164.3H1805.8zM1794.6 142.0H1805.8V153.1H1794.6zM1828.1 142.0H1839.2V153.1H1828.1zM1783.5 130.8H1805.8V142.0H1783.5zM1805.8 119.7H1816.9V130.8H1805.8z"/>
<path fill="#28c0de" d="M213.3 1745.6H224.5V1756.7H213.3zM202.2 1734.4H213.3V1745.6H202.2zM269.0 1712.2H280.2V1723.3H269.0zM280.2 1701.0H291.3V1712.2H280.2zM235.6 1678.7H246.7V1689.9H235.6zM246.7 1667.6H257.9V1678.7H246.7zM647.6 1634.2H681.0V1645.3H647.6zM380.4 1623.1H391.5V1634.2H380.4zM647.6 1623.1H681.0V1634.2H647.6zM558.6 1589.7H592.0V1600.8H558.6zM324.7 1567.4H335.8V1578.5H324.7zM469.5 1511.7H480.6V1522.8H469.5zM469.5 1500.6H480.6V1511.7H469.5zM480.6 1489.4H502.9V1500.6H480.6zM436.1 1478.3H458.3V1489.4H436.1zM480.6 1478.3H491.7V1489.4H480.6zM458.3 1467.2H480.6V1478.3H458.3zM1249.0 1467.2H1260.1V1478.3H1249.0zM458.3 1456.0H469.5V1467.2H458.3zM358.1 1389.2H369.2V1400.3H358.1zM358.1 1378.1H369.2V1389.2H358.1zM358.1 1366.9H369.2V1378.1H358.1zM1137.6 1355.8H1148.8V1366.9H1137.6zM1137.6 1344.7H1148.8V1355.8H1137.6zM313.6 1300.1H335.8V1311.3H313.6zM926.0 1300.1H937.2V1311.3H926.0zM313.6 1289.0H335.8V1300.1H313.6zM926.0 1289.0H959.4V1300.1H926.0zM313.6 1277.9H335.8V1289.0H313.6zM926.0 1277.9H948.3V1289.0H926.0zM914.9 1266.7H937.2V1277.9H914.9zM903.8 1255.6H926.0V1266.7H903.8zM903.8 1244.4H914.9V1255.6H903.8zM848.1 1199.9H870.4V1211.0H848.1zM837.0 1188.8H859.2V1199.9H837.0zM1794.6 1121.9H1805.8V1133.1H1794.6zM759.0 1110.8H770.1V1121.9H759.0zM747.9 1099.7H770.1V1110.8H747.9zM1772.4 1099.7H1805.8V1110.8H1772.4zM747.9 1088.5H759.0V1099.7H747.9zM1772.4 1088.5H1794.6V1099.7H1772.4zM1772.4 1077.4H1783.5V1088.5H1772.4zM692.2 1044.0H714.5V1055.1H692.2zM681.0 1032.9H703.3V1044.0H681.0zM647.6 1021.7H692.2V1032.9H647.6zM1081.9 1021.7H1093.1V1032.9H1081.9zM1104.2 1021.7H1115.4V1032.9H1104.2zM658.8 1010.6H681.0V1021.7H658.8zM1081.9 1010.6H1093.1V1021.7H1081.9zM658.8 999.5H669.9V1010.6H658.8zM1081.9 999.5H1093.1V1010.6H1081.9zM1026.3 988.3H1081.9V999.5H1026.3zM1026.3 977.2H1037.4V988.3H1026.3zM959.4 921.5H981.7V932.6H959.4zM959.4 910.4H970.6V921.5H959.4zM959.4 899.2H970.6V910.4H959.4zM959.4 888.1H970.6V899.2H959.4zM1694.4 888.1H1705.6V899.2H1694.4zM959.4 877.0H970.6V888.1H959.4zM1683.3 877.0H1694.4V888.1H1683.3zM926.0 865.8H959.4V877.0H926.0zM926.0 843.5H937.2V854.7H926.0zM1661.0 821.3H1672.2V832.4H1661.0zM592.0 810.1H614.2V821.3H592.0zM1638.7 810.1H1661.0V821.3H1638.7zM1649.9 799.0H1661.0V810.1H1649.9zM1627.6 776.7H1638.7V787.9H1627.6zM1538.5 721.1H1560.8V732.2H1538.5zM1538.5 709.9H1549.7V721.1H1538.5zM480.6 698.8H491.7V709.9H480.6zM1293.5 698.8H1304.7V709.9H1293.5zM1249.0 654.2H1260.1V665.4H1249.0zM1416.0 620.8H1449.4V632.0H1416.0zM1416.0 609.7H1449.4V620.8H1416.0zM1393.8 598.6H1404.9V609.7H1393.8zM1416.0 598.6H1438.3V609.7H1416.0zM1683.3 587.4H1705.6V598.6H1683.3zM1393.8 576.3H1404.9V587.4H1393.8zM1683.3 576.3H1705.6V587.4H1683.3zM1349.2 554.0H1360.3V565.1H1349.2zM1371.5 554.0H1382.6V565.1H1371.5zM1326.9 531.7H1360.3V542.9H1326.9zM1326.9 520.6H1360.3V531.7H1326.9zM1326.9 509.5H1349.2V520.6H1326.9zM1549.7 420.4H1560.8V431.5H1549.7zM1226.7 409.2H1249.0V420.4H1226.7zM1226.7 398.1H1237.8V409.2H1226.7zM1527.4 398.1H1538.5V409.2H1527.4zM1171.0 320.2H1182.2V331.3H1171.0zM1137.6 309.0H1148.8V320.2H1137.6zM1137.6 297.9H1159.9V309.0H1137.6zM1126.5 286.7H1137.6V297.9H1126.5zM1070.8 264.5H1081.9V275.6H1070.8zM1360.3 264.5H1382.6V275.6H1360.3zM1059.7 253.3H1070.8V264.5H1059.7zM1360.3 253.3H1382.6V264.5H1360.3zM848.1 175.4H881.5V186.5H848.1zM848.1 164.3H870.4V175.4H848.1zM825.8 153.1H837.0V164.3H825.8zM848.1 153.1H859.2V164.3H848.1z"/>
<path fill="#2db7d9" d="M447.2 1689.9H458.3V1701.0H447.2zM714.5 1689.9H725.6V1701.0H714.5zM692.2 1678.7H725.6V1689.9H692.2zM669.9 1656.5H681.0V1667.6H669.9zM658.8 1645.3H681.0V1656.5H658.8zM681.0 1634.2H703.3V1645.3H681.0zM681.0 1623.1H692.2V1634.2H681.0zM658.8 1611.9H681.0V1623.1H658.8zM580.8 1578.5H592.0V1589.7H580.8zM547.4 1556.3H569.7V1567.4H547.4zM547.4 1545.1H558.6V1556.3H547.4zM536.3 1534.0H547.4V1545.1H536.3zM257.9 1500.6H269.0V1511.7H257.9zM1237.8 1467.2H1249.0V1478.3H1237.8zM413.8 1411.5H424.9V1422.6H413.8zM391.5 1400.3H413.8V1411.5H391.5zM391.5 1389.2H402.6V1400.3H391.5zM1126.5 1378.1H1137.6V1389.2H1126.5zM369.2 1366.9H380.4V1378.1H369.2zM1126.5 1366.9H1137.6V1378.1H1126.5zM914.9 1300.1H926.0V1311.3H914.9zM302.4 1289.0H313.6V1300.1H302.4zM335.8 1289.0H347.0V1300.1H335.8zM914.9 1289.0H926.0V1300.1H914.9zM291.3 1277.9H313.6V1289.0H291.3zM335.8 1277.9H347.0V1289.0H335.8zM313.6 1266.7H335.8V1277.9H313.6zM903.8 1266.7H914.9V1277.9H903.8zM269.0 1255.6H280.2V1266.7H269.0zM313.6 1255.6H324.7V1266.7H313.6zM269.0 1244.4H280.2V1255.6H269.0zM257.9 1233.3H280.2V1244.4H257.9zM870.4 1211.0H881.5V1222.2H870.4zM837.0 1199.9H848.1V1211.0H837.0zM814.7 1177.6H848.1V1188.8H814.7zM803.5 1166.5H825.8V1177.6H803.5zM781.3 1144.2H792.4V1155.4H781.3zM770.1 1133.1H792.4V1144.2H770.1zM770.1 1121.9H781.3V1133.1H770.1zM747.9 1110.8H759.0V1121.9H747.9zM770.1 1110.8H781.3V1121.9H770.1zM1772.4 1110.8H1794.6V1121.9H1772.4zM736.7 1077.4H747.9V1088.5H736.7zM681.0 1044.0H692.2V1055.1H681.0zM647.6 1032.9H669.9V1044.0H647.6zM1015.1 1010.6H1037.4V1021.7H1015.1zM1015.1 999.5H1037.4V1010.6H1015.1zM1004.0 988.3H1026.3V999.5H1004.0zM1015.1 977.2H1026.3V988.3H1015.1zM959.4 943.8H970.6V954.9H959.4zM937.2 932.6H981.7V943.8H937.2zM937.2 921.5H959.4V932.6H937.2zM1694.4 877.0H1705.6V888.1H1694.4zM1661.0 832.4H1672.2V843.5H1661.0zM569.7 821.3H592.0V832.4H569.7zM1638.7 799.0H1649.9V810.1H1638.7zM1627.6 787.9H1638.7V799.0H1627.6zM1549.7 743.3H1560.8V754.5H1549.7zM1549.7 732.2H1560.8V743.3H1549.7zM1560.8 721.1H1583.1V732.2H1560.8zM480.6 709.9H491.7V721.1H480.6zM1282.4 709.9H1304.7V721.1H1282.4zM1549.7 709.9H1571.9V721.1H1549.7zM1282.4 698.8H1293.5V709.9H1282.4zM1538.5 698.8H1560.8V709.9H1538.5zM1237.8 665.4H1260.1V676.5H1237.8zM1783.5 665.4H1794.6V676.5H1783.5zM1237.8 654.2H1249.0V665.4H1237.8zM1783.5 654.2H1794.6V665.4H1783.5zM1404.9 598.6H1416.0V609.7H1404.9zM1438.3 598.6H1449.4V609.7H1438.3zM1416.0 587.4H1438.3V598.6H1416.0zM1404.9 576.3H1416.0V587.4H1404.9zM1705.6 576.3H1716.7V587.4H1705.6zM1349.2 542.9H1360.3V554.0H1349.2zM1371.5 542.9H1382.6V554.0H1371.5zM1360.3 531.7H1371.5V542.9H1360.3zM1360.3 520.6H1371.5V531.7H1360.3zM1349.2 509.5H1360.3V520.6H1349.2zM1583.1 464.9H1638.7V476.1H1583.1zM1605.3 453.8H1627.6V464.9H1605.3zM1549.7 431.5H1560.8V442.7H1549.7zM1583.1 431.5H1605.3V442.7H1583.1zM1249.0 409.2H1260.1V420.4H1249.0zM1204.4 398.1H1226.7V409.2H1204.4zM1237.8 398.1H1260.1V409.2H1237.8zM1516.2 398.1H1527.4V409.2H1516.2zM1226.7 387.0H1249.0V398.1H1226.7zM1226.7 375.8H1237.8V387.0H1226.7zM1482.8 364.7H1494.0V375.8H1482.8zM1516.2 364.7H1527.4V375.8H1516.2zM1482.8 353.6H1494.0V364.7H1482.8zM1516.2 353.6H1527.4V364.7H1516.2zM1482.8 342.4H1505.1V353.6H1482.8zM1482.8 331.3H1505.1V342.4H1482.8zM1159.9 320.2H1171.0V331.3H1159.9zM1482.8 320.2H1494.0V331.3H1482.8zM1148.8 309.0H1159.9V320.2H1148.8zM1115.4 286.7H1126.5V297.9H1115.4zM1070.8 253.3H1081.9V264.5H1070.8zM1371.5 242.2H1382.6V253.3H1371.5zM837.0 175.4H848.1V186.5H837.0zM837.0 164.3H848.1V175.4H837.0zM1282.4 164.3H1304.7V175.4H1282.4z"/>
<path fill="#38a5d0" d="M714.5 1667.6H725.6V1678.7H714.5zM1171.0 1422.6H1182.2V1433.8H1171.0zM881.5 1266.7H892.6V1277.9H881.5zM280.2 1233.3H291.3V1244.4H280.2zM681.0 1066.3H692.2V1077.4H681.0zM1761.2 1066.3H1772.4V1077.4H1761.2zM1705.6 1021.7H1716.7V1032.9H1705.6zM525.1 776.7H536.3V787.9H525.1zM926.0 242.2H937.2V253.3H926.0zM881.5 186.5H892.6V197.7H881.5z"/>
<path fill="#4493c6" d="M424.9 1678.7H458.3V1689.9H424.9zM424.9 1667.6H458.3V1678.7H424.9zM681.0 1667.6H714.5V1678.7H681.0zM424.9 1656.5H447.2V1667.6H424.9zM681.0 1656.5H725.6V1667.6H681.0zM402.6 1645.3H436.1V1656.5H402.6zM681.0 1645.3H714.5V1656.5H681.0zM391.5 1623.1H413.8V1634.2H391.5zM380.4 1611.9H391.5V1623.1H380.4zM603.1 1600.8H614.2V1611.9H603.1zM536.3 1578.5H547.4V1589.7H536.3zM558.6 1578.5H580.8V1589.7H558.6zM335.8 1567.4H347.0V1578.5H335.8zM525.1 1567.4H580.8V1578.5H525.1zM324.7 1556.3H335.8V1567.4H324.7zM514.0 1556.3H547.4V1567.4H514.0zM302.4 1545.1H313.6V1556.3H302.4zM324.7 1545.1H335.8V1556.3H324.7zM514.0 1545.1H547.4V1556.3H514.0zM302.4 1534.0H313.6V1545.1H302.4zM491.7 1534.0H536.3V1545.1H491.7zM269.0 1522.8H313.6V1534.0H269.0zM480.6 1522.8H536.3V1534.0H480.6zM269.0 1511.7H302.4V1522.8H269.0zM480.6 1511.7H525.1V1522.8H480.6zM269.0 1500.6H291.3V1511.7H269.0zM480.6 1500.6H514.0V1511.7H480.6zM424.9 1467.2H458.3V1478.3H424.9zM1215.6 1467.2H1237.8V1478.3H1215.6zM413.8 1456.0H458.3V1467.2H413.8zM1204.4 1456.0H1249.0V1467.2H1204.4zM413.8 1444.9H458.3V1456.0H413.8zM1193.3 1444.9H1249.0V1456.0H1193.3zM391.5 1433.8H447.2V1444.9H391.5zM1182.2 1433.8H1237.8V1444.9H1182.2zM380.4 1422.6H436.1V1433.8H380.4zM369.2 1411.5H413.8V1422.6H369.2zM1159.9 1411.5H1182.2V1422.6H1159.9zM380.4 1400.3H391.5V1411.5H380.4zM1148.8 1400.3H1171.0V1411.5H1148.8zM1193.3 1400.3H1204.4V1411.5H1193.3zM369.2 1389.2H391.5V1400.3H369.2zM1137.6 1389.2H1171.0V1400.3H1137.6zM369.2 1378.1H391.5V1389.2H369.2zM1137.6 1378.1H1182.2V1389.2H1137.6zM1137.6 1366.9H1171.0V1378.1H1137.6zM1126.5 1355.8H1137.6V1366.9H1126.5zM347.0 1344.7H358.1V1355.8H347.0zM1126.5 1344.7H1137.6V1355.8H1126.5zM1115.4 1333.5H1137.6V1344.7H1115.4zM903.8 1289.0H914.9V1300.1H903.8zM903.8 1277.9H926.0V1289.0H903.8zM280.2 1266.7H313.6V1277.9H280.2zM892.6 1266.7H903.8V1277.9H892.6zM280.2 1255.6H313.6V1266.7H280.2zM892.6 1255.6H903.8V1266.7H892.6zM280.2 1244.4H313.6V1255.6H280.2zM881.5 1244.4H903.8V1255.6H881.5zM291.3 1233.3H302.4V1244.4H291.3zM848.1 1233.3H903.8V1244.4H848.1zM837.0 1222.2H892.6V1233.3H837.0zM825.8 1211.0H870.4V1222.2H825.8zM814.7 1199.9H837.0V1211.0H814.7zM803.5 1188.8H837.0V1199.9H803.5zM803.5 1177.6H814.7V1188.8H803.5zM759.0 1144.2H781.3V1155.4H759.0zM747.9 1133.1H770.1V1144.2H747.9zM736.7 1121.9H770.1V1133.1H736.7zM725.6 1110.8H747.9V1121.9H725.6zM1761.2 1110.8H1772.4V1121.9H1761.2zM1794.6 1110.8H1805.8V1121.9H1794.6zM714.5 1099.7H747.9V1110.8H714.5zM1750.1 1099.7H1772.4V1110.8H1750.1zM714.5 1088.5H747.9V1099.7H714.5zM1750.1 1088.5H1772.4V1099.7H1750.1zM714.5 1077.4H736.7V1088.5H714.5zM1727.8 1077.4H1750.1V1088.5H1727.8zM1761.2 1077.4H1772.4V1088.5H1761.2zM703.3 1066.3H736.7V1077.4H703.3zM1716.7 1066.3H1750.1V1077.4H1716.7zM681.0 1055.1H725.6V1066.3H681.0zM1705.6 1055.1H1761.2V1066.3H1705.6zM658.8 1044.0H681.0V1055.1H658.8zM1705.6 1044.0H1750.1V1055.1H1705.6zM669.9 1032.9H681.0V1044.0H669.9zM1705.6 1032.9H1739.0V1044.0H1705.6zM1004.0 977.2H1015.1V988.3H1004.0zM970.6 943.8H981.7V954.9H970.6zM1672.2 865.8H1705.6V877.0H1672.2zM1661.0 854.7H1672.2V865.8H1661.0zM1661.0 843.5H1672.2V854.7H1661.0zM614.2 832.4H625.4V843.5H614.2zM1649.9 832.4H1661.0V843.5H1649.9zM592.0 821.3H625.4V832.4H592.0zM1627.6 821.3H1661.0V832.4H1627.6zM558.6 810.1H592.0V821.3H558.6zM1616.5 810.1H1638.7V821.3H1616.5zM547.4 799.0H592.0V810.1H547.4zM1605.3 799.0H1638.7V810.1H1605.3zM536.3 787.9H592.0V799.0H536.3zM1594.2 787.9H1627.6V799.0H1594.2zM536.3 776.7H547.4V787.9H536.3zM569.7 776.7H580.8V787.9H569.7zM1583.1 776.7H1627.6V787.9H1583.1zM514.0 765.6H525.1V776.7H514.0zM1571.9 765.6H1594.2V776.7H1571.9zM1605.3 765.6H1627.6V776.7H1605.3zM502.9 754.5H525.1V765.6H502.9zM547.4 754.5H558.6V765.6H547.4zM1315.8 754.5H1326.9V765.6H1315.8zM1560.8 754.5H1594.2V765.6H1560.8zM1605.3 754.5H1616.5V765.6H1605.3zM491.7 743.3H525.1V754.5H491.7zM1560.8 743.3H1583.1V754.5H1560.8zM480.6 732.2H525.1V743.3H480.6zM1560.8 732.2H1594.2V743.3H1560.8zM480.6 721.1H525.1V732.2H480.6zM491.7 709.9H514.0V721.1H491.7zM1750.1 665.4H1783.5V676.5H1750.1zM1739.0 654.2H1783.5V665.4H1739.0zM1727.8 643.1H1783.5V654.2H1727.8zM1193.3 632.0H1204.4V643.1H1193.3zM1716.7 632.0H1772.4V643.1H1716.7zM1705.6 620.8H1761.2V632.0H1705.6zM1404.9 609.7H1416.0V620.8H1404.9zM1727.8 609.7H1750.1V620.8H1727.8zM1716.7 598.6H1739.0V609.7H1716.7zM1393.8 587.4H1416.0V598.6H1393.8zM1705.6 587.4H1727.8V598.6H1705.6zM1416.0 576.3H1427.2V587.4H1416.0zM1360.3 554.0H1371.5V565.1H1360.3zM1338.1 542.9H1349.2V554.0H1338.1zM1360.3 542.9H1371.5V554.0H1360.3zM1371.5 531.7H1382.6V542.9H1371.5zM1571.9 453.8H1605.3V464.9H1571.9zM1560.8 442.7H1616.5V453.8H1560.8zM1560.8 431.5H1583.1V442.7H1560.8zM1560.8 420.4H1594.2V431.5H1560.8zM1193.3 387.0H1226.7V398.1H1193.3zM1505.1 387.0H1538.5V398.1H1505.1zM1182.2 375.8H1226.7V387.0H1182.2zM1494.0 375.8H1538.5V387.0H1494.0zM1171.0 364.7H1204.4V375.8H1171.0zM1215.6 364.7H1226.7V375.8H1215.6zM1494.0 364.7H1516.2V375.8H1494.0zM1527.4 364.7H1538.5V375.8H1527.4zM1159.9 353.6H1182.2V364.7H1159.9zM1494.0 353.6H1516.2V364.7H1494.0zM1148.8 342.4H1204.4V353.6H1148.8zM1505.1 342.4H1516.2V353.6H1505.1zM1137.6 331.3H1193.3V342.4H1137.6zM1126.5 320.2H1159.9V331.3H1126.5zM1126.5 309.0H1137.6V320.2H1126.5zM1115.4 297.9H1137.6V309.0H1115.4zM1093.1 286.7H1115.4V297.9H1093.1zM1081.9 275.6H1093.1V286.7H1081.9zM1081.9 264.5H1093.1V275.6H1081.9zM1081.9 253.3H1093.1V264.5H1081.9zM892.6 242.2H926.0V253.3H892.6zM1326.9 242.2H1338.1V253.3H1326.9zM1360.3 242.2H1371.5V253.3H1360.3zM881.5 231.1H926.0V242.2H881.5zM1315.8 231.1H1338.1V242.2H1315.8zM1349.2 231.1H1371.5V242.2H1349.2zM870.4 219.9H926.0V231.1H870.4zM1304.7 219.9H1360.3V231.1H1304.7zM870.4 208.8H914.9V219.9H870.4zM1293.5 208.8H1349.2V219.9H1293.5zM848.1 197.7H870.4V208.8H848.1zM892.6 197.7H903.8V208.8H892.6zM1282.4 197.7H1338.1V208.8H1282.4zM837.0 186.5H881.5V197.7H837.0zM1282.4 186.5H1326.9V197.7H1282.4zM1282.4 175.4H1315.8V186.5H1282.4zM837.0 153.1H848.1V164.3H837.0z"/>
<path fill="#4f81bd" d="M547.4 1578.5H558.6V1589.7H547.4zM502.9 1545.1H514.0V1556.3H502.9zM402.6 1444.9H413.8V1456.0H402.6zM1182.2 1422.6H1226.7V1433.8H1182.2zM1182.2 1411.5H1215.6V1422.6H1182.2zM369.2 1400.3H380.4V1411.5H369.2zM1171.0 1400.3H1193.3V1411.5H1171.0zM1171.0 1389.2H1193.3V1400.3H1171.0zM892.6 1277.9H903.8V1289.0H892.6zM870.4 1255.6H892.6V1266.7H870.4zM859.2 1244.4H881.5V1255.6H859.2zM703.3 1088.5H714.5V1099.7H703.3zM1739.0 1088.5H1750.1V1099.7H1739.0zM692.2 1077.4H714.5V1088.5H692.2zM1750.1 1077.4H1761.2V1088.5H1750.1zM692.2 1066.3H703.3V1077.4H692.2zM1750.1 1066.3H1761.2V1077.4H1750.1zM669.9 1055.1H681.0V1066.3H669.9zM547.4 776.7H569.7V787.9H547.4zM525.1 765.6H569.7V776.7H525.1zM1594.2 765.6H1605.3V776.7H1594.2zM525.1 754.5H547.4V765.6H525.1zM1594.2 754.5H1605.3V765.6H1594.2zM525.1 743.3H547.4V754.5H525.1zM1583.1 743.3H1605.3V754.5H1583.1zM525.1 732.2H536.3V743.3H525.1zM1705.6 609.7H1727.8V620.8H1705.6zM1705.6 598.6H1716.7V609.7H1705.6zM1204.4 364.7H1215.6V375.8H1204.4zM1182.2 353.6H1215.6V364.7H1182.2zM1338.1 242.2H1360.3V253.3H1338.1zM1338.1 231.1H1349.2V242.2H1338.1zM859.2 208.8H870.4V219.9H859.2zM870.4 197.7H892.6V208.8H870.4z"/>
</g>
<rect x="202.2" y="119.7" width="1637.0" height="1637.0" fill="none" stroke="#000" stroke-width="5.8" stroke-linejoin="round"/>
<line x1="753.4" y1="1756.7" x2="753.4" y2="1762.6" stroke="#000" stroke-width="5.6" stroke-linecap="round"/>
<line x1="753.4" y1="119.7" x2="753.4" y2="113.8" stroke="#000" stroke-width="5.6" stroke-linecap="round"/>
<line x1="202.2" y1="1205.5" x2="196.3" y2="1205.5" stroke="#000" stroke-width="5.6" stroke-linecap="round"/>
<line x1="1839.2" y1="1205.5" x2="1845.1" y2="1205.5" stroke="#000" stroke-width="5.6" stroke-linecap="round"/>
<text transform="translate(753.4 1811.6) scale(1 1.035)" font-size="60" text-anchor="middle">50</text>
<text transform="translate(192.5 1227.3) scale(1 1.035)" font-size="60" text-anchor="end">50</text>
<line x1="1310.2" y1="1756.7" x2="1310.2" y2="1762.6" stroke="#000" stroke-width="5.6" stroke-linecap="round"/>
<line x1="1310.2" y1="119.7" x2="1310.2" y2="113.8" stroke="#000" stroke-width="5.6" stroke-linecap="round"/>
<line x1="202.2" y1="648.7" x2="196.3" y2="648.7" stroke="#000" stroke-width="5.6" stroke-linecap="round"/>
<line x1="1839.2" y1="648.7" x2="1845.1" y2="648.7" stroke="#000" stroke-width="5.6" stroke-linecap="round"/>
<text transform="translate(1310.2 1811.6) scale(1 1.035)" font-size="60" text-anchor="middle">100</text>
<text transform="translate(192.5 670.5) scale(1 1.035)" font-size="60" text-anchor="end">100</text>
<text transform="translate(1021.5 1867.5) scale(1 1.035)" font-size="60" text-anchor="middle">Residue index</text>
<text transform="translate(80.9 938.0) rotate(-90) scale(1 1.035)" font-size="60" text-anchor="middle">Residue index</text>
<rect x="1862.0" y="1654.39" width="12.5" height="102.81" fill="#ff0000"/>
<rect x="1862.0" y="1552.08" width="12.5" height="102.81" fill="#ff1c00"/>
<rect x="1862.0" y="1449.76" width="12.5" height="102.81" fill="#ff3700"/>
<rect x="1862.0" y="1347.45" width="12.5" height="102.81" fill="#ff5200"/>
<rect x="1862.0" y="1245.14" width="12.5" height="102.81" fill="#ff6e00"/>
<rect x="1862.0" y="1142.83" width="12.5" height="102.81" fill="#ff8a00"/>
<rect x="1862.0" y="1040.52" width="12.5" height="102.81" fill="#ffa500"/>
<rect x="1862.0" y="938.20" width="12.5" height="102.81" fill="#00ffff"/>
<rect x="1862.0" y="835.89" width="12.5" height="102.81" fill="#0bedf6"/>
<rect x="1862.0" y="733.58" width="12.5" height="102.81" fill="#17dbec"/>
<rect x="1862.0" y="631.27" width="12.5" height="102.81" fill="#22c9e3"/>
<rect x="1862.0" y="528.96" width="12.5" height="102.81" fill="#2db7d9"/>
<rect x="1862.0" y="426.64" width="12.5" height="102.81" fill="#38a5d0"/>
<rect x="1862.0" y="324.33" width="12.5" height="102.81" fill="#4493c6"/>
<rect x="1862.0" y="222.02" width="12.5" height="102.81" fill="#4f81bd"/>
<rect x="1862.0" y="119.7" width="12.5" height="1637.0" fill="none" stroke="#000" stroke-width="5.8" stroke-linejoin="round"/>
<line x1="1874.5" y1="1697.1" x2="1879.0" y2="1697.1" stroke="#000" stroke-width="5.8" stroke-linecap="round"/>
<text transform="translate(1883.5 1715.0) scale(1 1.030)" font-size="48.6" text-anchor="start">0</text>
<line x1="1874.5" y1="1286.8" x2="1879.0" y2="1286.8" stroke="#000" stroke-width="5.8" stroke-linecap="round"/>
<text transform="translate(1883.5 1304.7) scale(1 1.030)" font-size="48.6" text-anchor="start">50</text>
<line x1="1874.5" y1="876.5" x2="1879.0" y2="876.5" stroke="#000" stroke-width="5.8" stroke-linecap="round"/>
<text transform="translate(1883.5 894.4) scale(1 1.030)" font-size="48.6" text-anchor="start">100</text>
<line x1="1874.5" y1="466.2" x2="1879.0" y2="466.2" stroke="#000" stroke-width="5.8" stroke-linecap="round"/>
<text transform="translate(1883.5 484.1) scale(1 1.030)" font-size="48.6" text-anchor="start">150</text>
</svg>
</body></html>
